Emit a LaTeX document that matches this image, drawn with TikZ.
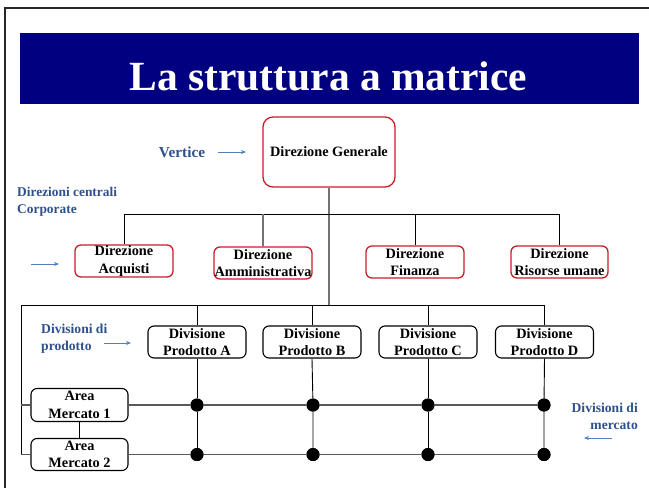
\documentclass[tikz,border=0pt]{standalone}
\usepackage{fontspec}
\setmainfont{Liberation Serif}
\usetikzlibrary{arrows.meta}
\definecolor{navyband}{RGB}{0,0,128}
\definecolor{boxred}{RGB}{200,30,40}
\definecolor{labblue}{RGB}{47,80,140}
\definecolor{arrblue}{RGB}{79,129,189}
\begin{document}
\begin{tikzpicture}[x=1pt,y=-1pt,
  redbox/.style={draw=boxred,line width=1.3pt,rounded corners=6pt,fill=white,inner sep=0pt,align=center,
    font=\fontsize{14.3}{17.5}\selectfont\bfseries,minimum width=98pt,minimum height=32pt},
  blackbox/.style={draw=black,line width=1.1pt,rounded corners=6pt,fill=white,inner sep=0pt,align=center,
    font=\fontsize{14.3}{17.5}\selectfont\bfseries,minimum width=98pt,minimum height=32pt},
  lab/.style={text=labblue,font=\fontsize{13.6}{17}\selectfont\bfseries,inner sep=0pt},
  conn/.style={line width=0.9pt,draw=black},
  gconn/.style={line width=1.3pt,draw=black!55},
  mconn/.style={line width=1.2pt,draw=black!65},
  blarrow/.style={draw=arrblue,line width=0.9pt,-{Stealth[length=5pt,width=4pt]}},
  dot/.style={circle,fill=black,inner sep=0pt,minimum size=13pt}]
\useasboundingbox (0,0) rectangle (649,488);
% frame
\draw[line width=2.2pt,black!85] (5,488) -- (5,8) -- (649,8);
% title band
\fill[navyband] (20,33) rectangle (639,104);
\node[anchor=base,text=white,font=\fontsize{41.5}{46}\selectfont\bfseries,inner sep=0pt] (title) at (328.5,90) {La struttura a matrice};
% top
\node[redbox,minimum width=132pt,minimum height=70pt,rounded corners=10pt] (dg) at (329,152) {Direzione Generale};
\node[redbox] (acq) at (124,261) {Direzione\\Acquisti};
\node[redbox] (amm) at (263,263) {Direzione\\Amministrativa};
\node[redbox] (fin) at (415,262) {Direzione\\Finanza};
\node[redbox,minimum width=97pt] (ris) at (559.5,262) {Direzione\\Risorse umane};
% products
\node[blackbox] (pa) at (197,342) {Divisione\\Prodotto A};
\node[blackbox] (pb) at (312,342) {Divisione\\Prodotto B};
\node[blackbox] (pc) at (428,342) {Divisione\\Prodotto C};
\node[blackbox] (pd) at (544.5,342) {Divisione\\Prodotto D};
% markets
\node[blackbox,minimum width=97pt,minimum height=33pt] (am1) at (79.5,405) {Area\\Mercato 1};
\node[blackbox,minimum width=97pt] (am2) at (79.5,454.5) {Area\\Mercato 2};
% coordinates
\coordinate (cbus) at (329,214);
\coordinate (pbus) at (329,305.5);
\coordinate (pL) at (21,305.5);
\coordinate (m1) at (0,405);
\coordinate (m2) at (0,454.5);
% dots
\node[dot] (a1) at (197,405) {};
\node[dot] (b1) at (313,405) {};
\node[dot] (c1) at (428,405) {};
\node[dot] (d1) at (544,405) {};
\node[dot] (a2) at (197,454.5) {};
\node[dot] (b2) at (313,454.5) {};
\node[dot] (c2) at (428,454.5) {};
\node[dot] (d2) at (544,454.5) {};
% corporate connectors
\draw[gconn] (dg.south) -- (pbus);
\draw[conn] (acq.north) -- (acq.north |- cbus) -- (ris.north |- cbus) -- (ris.north);
\draw[gconn] (amm.north) -- (amm.north |- cbus);
\draw[conn] (fin.north) -- (fin.north |- cbus);
% product bus
\draw[conn] (pa.north) -- (pa.north |- pbus);
\draw[conn] (pb.north) -- (pb.north |- pbus);
\draw[conn] (pc.north) -- (pc.north |- pbus);
\draw[conn] (pL |- m2) -- (pL) -- (pd.north |- pbus) -- (pd.north);
% market lines
\draw[mconn] (pL |- m1) -- (am1.west);
\draw[mconn] (am1.east) -- (a1) -- (b1) -- (c1) -- (d1);
\draw[mconn] (pL |- m2) -- (am2.west);
\draw[mconn] (am2.east) -- (a2) -- (b2) -- (c2) -- (d2);
\draw[conn] (am1.south) -- (am2.north);
% verticals
\draw[conn] (pa.south) -- (a1) -- (a2);
\draw[conn] (pb.south) -- (b1) -- (b2);
\draw[conn] (pc.south) -- (c1) -- (c2);
\draw[conn] (pd.south) -- (d1) -- (d2);
% redraw dots on top
\foreach \d in {a1,b1,c1,d1,a2,b2,c2,d2} \fill (\d) circle (6.5pt);
% labels
\node[lab,font=\fontsize{15.3}{17}\selectfont\bfseries] (vert) at (182,152) {Vertice};
\coordinate (va1) at (218,152);
\coordinate (va2) at (246,152);
\draw[blarrow] (va1) -- (va2);
\node[lab,align=left,anchor=west,font=\fontsize{13.4}{17}\selectfont\bfseries] (dcc) at (17,201.5) {Direzioni centrali\\Corporate};
\coordinate (ca1) at (31,264);
\coordinate (ca2) at (59,264);
\draw[blarrow] (ca1) -- (ca2);
\node[lab,align=left,anchor=west] (dp) at (41,338.5) {Divisioni di\\prodotto};
\coordinate (pa1) at (104,343);
\coordinate (pa2) at (131,343);
\draw[blarrow] (pa1) -- (pa2);
\node[lab,align=right,anchor=east] (dm) at (638,416) {Divisioni di\\mercato};
\coordinate (ma1) at (612,438);
\coordinate (ma2) at (584,438);
\draw[blarrow] (ma1) -- (ma2);
\end{tikzpicture}
\end{document}
